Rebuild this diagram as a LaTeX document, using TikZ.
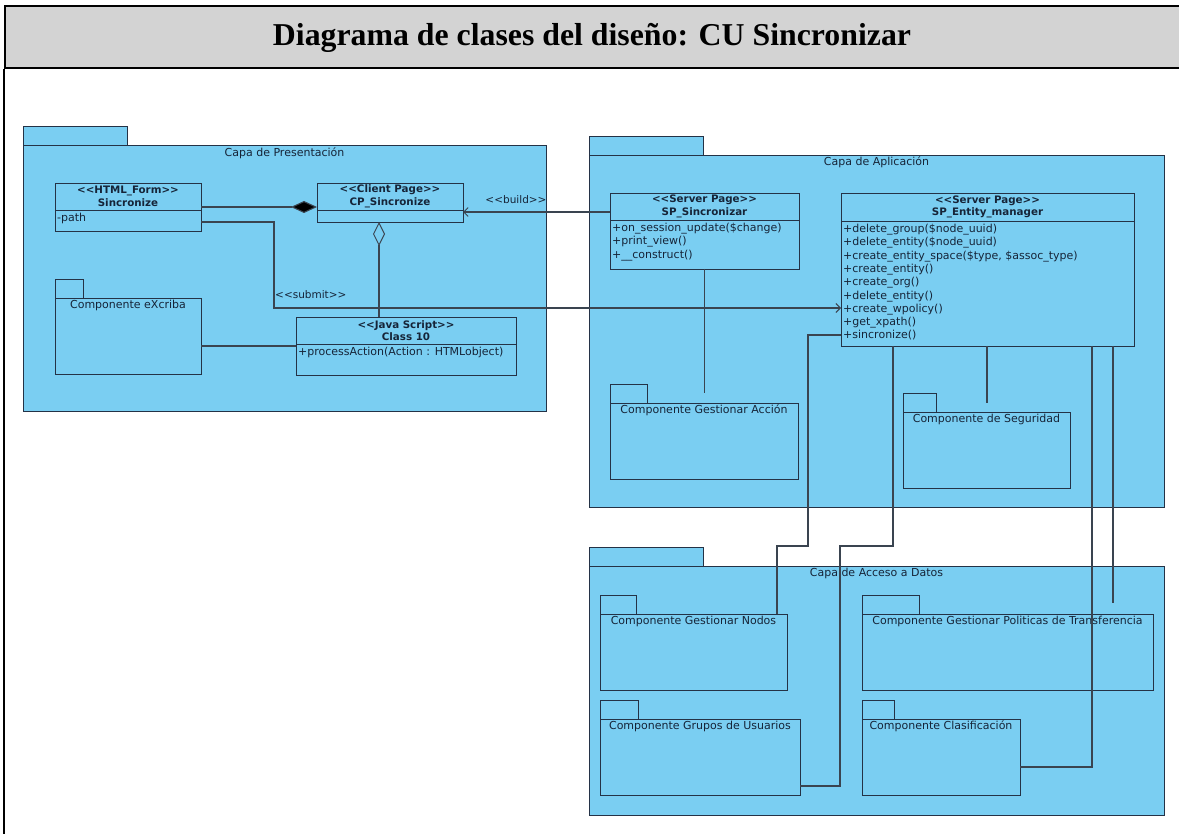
\documentclass[tikz,border=0pt]{standalone}
\usepackage{fontspec}
\setmainfont{Liberation Serif}
\newfontfamily\umlfont{DejaVu Sans}
\usetikzlibrary{arrows.meta,calc}
\definecolor{pkgfill}{RGB}{122,206,242}
\definecolor{pkgline}{RGB}{36,50,70}
\definecolor{linkgray}{RGB}{58,68,80}
\definecolor{umltext}{RGB}{22,36,56}
\definecolor{titlegray}{RGB}{211,211,211}
\begin{document}
\begin{tikzpicture}[x=1pt,y=-1pt,
  box/.style={draw=pkgline,fill=pkgfill,line width=0.9pt,anchor=north west,inner sep=0pt,outer sep=0pt},
  plabel/.style={text=umltext,inner sep=0pt,font=\umlfont\fontsize{11}{13}\selectfont},
  chead/.style={box,align=center,text=umltext,font=\umlfont\bfseries\fontsize{10.3}{12.6}\selectfont},
  ops/.style={anchor=north west,align=left,inner sep=0pt,text=umltext,font=\umlfont\fontsize{11}{13.3}\selectfont},
  link/.style={draw=linkgray,line width=1.1pt},
  dep/.style={link,-{Straight Barb[length=4.5pt,width=9pt,line width=0.9pt]}},
  comp/.style={link,-{Diamond[length=26pt,width=12pt,fill=black]}},
  aggr/.style={link,-{Diamond[open,length=24pt,width=12pt,line width=0.9pt]}}
]
\useasboundingbox (0,0) rectangle (1179,834);
\fill[white] (0,0) rectangle (1179,834);

% frame and title band
\node[draw=black,fill=titlegray,line width=1.6pt,anchor=north west,inner sep=0pt,
      minimum width=1200,minimum height=62] (band) at (4,5) {};
\draw[line width=1.6pt] (band.south west) -- (4,860);
\node[font=\bfseries\fontsize{31.8}{36}\selectfont] (title) at (592,38) {Diagrama de clases del diseño: CU Sincronizar};

% ---------- Capa de Presentación ----------
\node[box,minimum width=104,minimum height=19] (presT) at (23,126) {};
\node[box,minimum width=523,minimum height=266] (presB) at (23,145) {};
\node[plabel] (presL) at ($(presB.north)+(0,8)$) {Capa de Presentación};

\node[chead,minimum width=146,minimum height=27] (htmlH) at (55,183) {<<HTML\_Form>>\\Sincronize};
\node[box,minimum width=146,minimum height=21] (htmlB) at (55,210) {};
\node[ops] (htmlO) at ($(htmlB.north west)+(2,3)$) {-path};

\node[chead,minimum width=146,minimum height=27] (cpH) at (317,183) {<<Client Page>>\\CP\_Sincronize};
\node[box,minimum width=146,minimum height=12] (cpB) at (317,210) {};

\node[chead,minimum width=220,minimum height=27] (jsH) at (296,317) {<<Java Script>>\\Class 10};
\node[box,minimum width=220,minimum height=31] (jsB) at (296,344) {};
\node[ops] (jsO) at ($(jsB.north west)+(2,3)$) {+processAction(Action : HTMLobject)};

\node[box,minimum width=28,minimum height=19] (excT) at (55,279) {};
\node[box,minimum width=146,minimum height=76] (excB) at (55,298) {};
\node[plabel] (excL) at ($(excB.north)+(0,7)$) {Componente eXcriba};

% ---------- Capa de Aplicación ----------
\node[box,minimum width=114,minimum height=19] (aplT) at (589,136) {};
\node[box,minimum width=575,minimum height=352] (aplB) at (589,155) {};
\node[plabel] (aplL) at ($(aplB.north)+(0,7)$) {Capa de Aplicación};

\node[chead,minimum width=189,minimum height=27] (spsH) at (610,193) {<<Server Page>>\\SP\_Sincronizar};
\node[box,minimum width=189,minimum height=49] (spsB) at (610,220) {};
\node[ops] (spsO) at ($(spsB.north west)+(2,3)$) {+on\_session\_update(\$change)\\+print\_view()\\+\_\_construct()};

\node[chead,minimum width=293,minimum height=28] (semH) at (841,193) {<<Server Page>>\\SP\_Entity\_manager};
\node[box,minimum width=293,minimum height=125] (semB) at (841,221) {};
\node[ops] (semO) at ($(semB.north west)+(2,3)$) {+delete\_group(\$node\_uuid)\\+delete\_entity(\$node\_uuid)\\+create\_entity\_space(\$type, \$assoc\_type)\\+create\_entity()\\+create\_org()\\+delete\_entity()\\+create\_wpolicy()\\+get\_xpath()\\+sincronize()};

\node[box,minimum width=37,minimum height=19] (accT) at (610,384) {};
\node[box,minimum width=188,minimum height=76] (accB) at (610,403) {};
\node[plabel] (accL) at ($(accB.north)+(0,7)$) {Componente Gestionar Acción};

\node[box,minimum width=33,minimum height=19] (segT) at (903,393) {};
\node[box,minimum width=167,minimum height=76] (segB) at (903,412) {};
\node[plabel] (segL) at ($(segB.north)+(0,7)$) {Componente de Seguridad};

% ---------- Capa de Acceso a Datos ----------
\node[box,minimum width=114,minimum height=19] (datT) at (589,547) {};
\node[box,minimum width=575,minimum height=249] (datB) at (589,566) {};
\node[plabel] (datL) at ($(datB.north)+(0,7)$) {Capa de Acceso a Datos};

\node[box,minimum width=36,minimum height=19] (nodT) at (600,595) {};
\node[box,minimum width=187,minimum height=76] (nodB) at (600,614) {};
\node[plabel] (nodL) at ($(nodB.north)+(0,7)$) {Componente Gestionar Nodos};

\node[box,minimum width=57,minimum height=19] (polT) at (862,595) {};
\node[box,minimum width=291,minimum height=76] (polB) at (862,614) {};
\node[plabel] (polL) at ($(polB.north)+(0,7)$) {Componente Gestionar Politicas de Transferencia};

\node[box,minimum width=38,minimum height=19] (grpT) at (600,700) {};
\node[box,minimum width=200,minimum height=76] (grpB) at (600,719) {};
\node[plabel] (grpL) at ($(grpB.north)+(0,7)$) {Componente Grupos de Usuarios};

\node[box,minimum width=32,minimum height=19] (clsT) at (862,700) {};
\node[box,minimum width=158,minimum height=76] (clsB) at (862,719) {};
\node[plabel] (clsL) at ($(clsB.north)+(0,7)$) {Componente Clasificación};

% ---------- connectors ----------
\coordinate (aggx) at (379,0);
\coordinate (subbend) at (274,308);
\coordinate (bstart) at ($(spsH.west)+(0,5.5)$);
\coordinate (xstart) at ($(excB.east)+(0,10)$);
\coordinate (r1) at (808,546);
\coordinate (r2) at (777,546);
\coordinate (r3) at (893,546);
\coordinate (r4) at (840,786);
\coordinate (r5) at (987,0);
\coordinate (r6) at (1092,767);
\coordinate (r7) at (1113,0);

\draw[comp] ($(htmlH.east)+(0,10.5)$) -- ($(cpH.west)+(0,10.5)$);
\draw[aggr] (jsH.north -| aggx) -- (cpB.south -| aggx);
\draw[dep] (bstart) -- (bstart -| cpB.east);
\draw[dep] ($(htmlB.east)+(0,1.5)$) -| (subbend) -- (subbend -| semB.west);
\draw[link] (xstart) -- (xstart -| jsB.west);
\draw[link] (spsB.south) -- ($(spsB.south |- accT.north)+(0,9)$);

\draw[link] ($(semB.south west)+(0,-11)$) -| (r1) -- (r2) -- (r2 |- nodB.north);
\draw[link] (semB.south -| r3) -- (r3) -| (r4) -- (r4 -| grpB.east);
\draw[link] (semB.south -| r5) -- ($(segT.north -| r5)+(0,10)$);
\draw[link] (semB.south -| r6) -- (r6) -- (r6 -| clsB.east);
\draw[link] (semB.south -| r7) -- ($(polT.north -| r7)+(0,8)$);

\node[plabel,font=\umlfont\fontsize{10.5}{12}\selectfont] (buildL) at (516,200) {<<build>>};
\node[plabel,anchor=west,font=\umlfont\fontsize{10.5}{12}\selectfont] (submitL) at (275,295) {<<submit>>};
\end{tikzpicture}
\end{document}
